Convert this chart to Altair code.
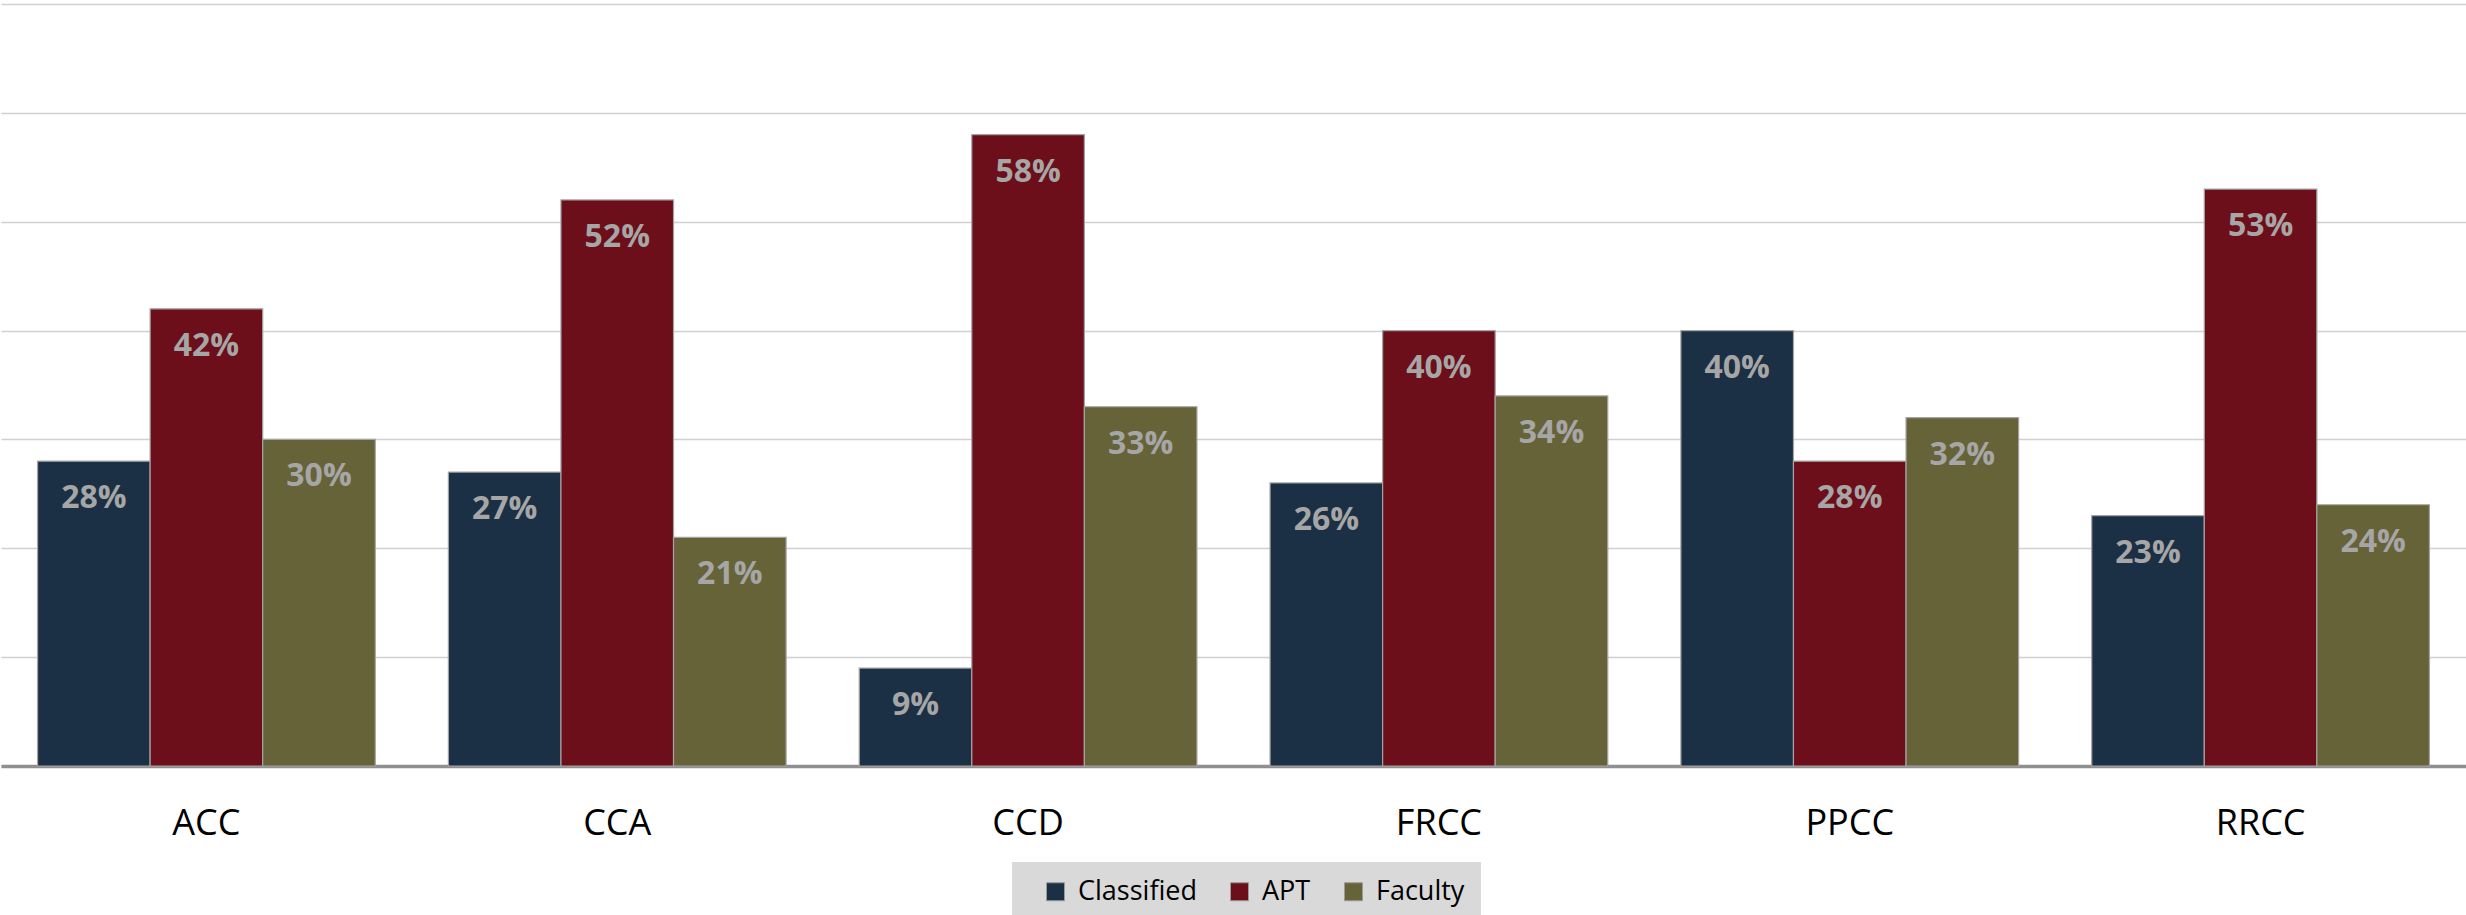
import altair as alt
import pandas as pd

# Share of employees by college and employee group (percent)
colleges = ["ACC", "CCA", "CCD", "FRCC", "PPCC", "RRCC"]
groups = ["Classified", "APT", "Faculty"]
classified = [28, 27, 9, 26, 40, 23]
apt = [42, 52, 58, 40, 28, 53]
faculty = [30, 21, 33, 34, 32, 24]
colors = ["#1b3044", "#6d0f1a", "#666338"]

rows = []
for i, college in enumerate(colleges):
    for group, series in zip(groups, [classified, apt, faculty]):
        rows.append({"college": college, "group": group, "value": series[i],
                     "label": f"{series[i]}%"})
df = pd.DataFrame(rows)

FONT = "Open Sans"

x_enc = alt.X(
    "college:N",
    sort=colleges,
    title=None,
    scale=alt.Scale(paddingInner=0.178, paddingOuter=0.089),
    axis=alt.Axis(
        labelAngle=0, labelFont=FONT, labelFontSize=36, labelColor="#000000",
        labelBaseline="middle", labelPadding=57, ticks=False, tickSize=0,
        domainColor="#8f8f8f", domainWidth=3.5, grid=False,
    ),
)
xoff_enc = alt.XOffset("group:N", sort=groups, scale=alt.Scale(paddingInner=0, paddingOuter=0))
y_enc = alt.Y(
    "value:Q",
    title=None,
    scale=alt.Scale(domain=[0, 70], nice=False),
    axis=alt.Axis(
        values=[0, 10, 20, 30, 40, 50, 60, 70], labels=False, ticks=False,
        domain=False, grid=True, gridColor="#d0d0d0", gridWidth=1.5,
    ),
)

bars = alt.Chart(df).mark_bar(stroke="#a3a3a3", strokeWidth=1.2).encode(
    x=x_enc,
    xOffset=xoff_enc,
    y=y_enc,
    color=alt.Color(
        "group:N",
        sort=groups,
        scale=alt.Scale(domain=groups, range=colors),
        legend=alt.Legend(
            title=None, orient="none", direction="horizontal",
            legendX=1011, legendY=858,
            fillColor="#d9d9d9", padding=16, symbolOffset=14,
            symbolType="square", symbolSize=324, symbolStrokeColor="#9a9a9a",
            symbolStrokeWidth=1, symbolOpacity=1,
            labelFont=FONT, labelFontSize=27, labelColor="#000000",
            labelOffset=9, columnPadding=15,
        ),
    ),
)

labels = alt.Chart(df).mark_text(
    font=FONT, fontSize=32, fontWeight="bold", color="#a6a6a6",
    baseline="middle", align="center", dy=37,
).encode(
    x=alt.X("college:N", sort=colleges),
    xOffset=alt.XOffset("group:N", sort=groups),
    y=alt.Y("value:Q"),
    text="label:N",
)

chart = alt.layer(bars, labels).properties(
    width=2465,
    height=762,
    padding={"left": 1, "top": 4, "right": 0, "bottom": 149},
    autosize=alt.AutoSizeParams(type="none"),
    background="#ffffff",
).configure_view(stroke=None)

chart.save("out.html", embed_options={"renderer": "svg", "actions": False})
